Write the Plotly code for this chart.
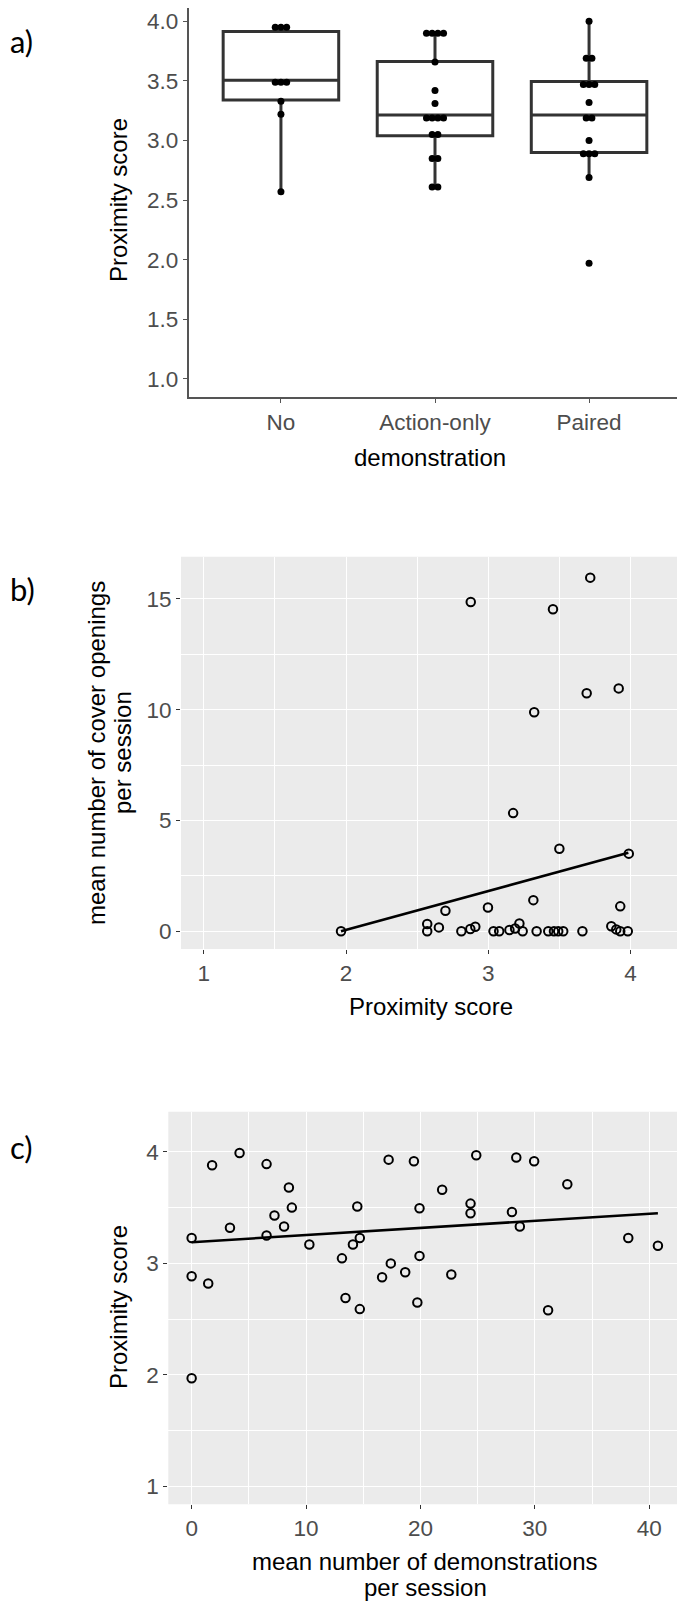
import plotly.graph_objects as go
from collections import Counter

# The page body has an 8px default margin; the figure is sized and positioned to compensate.
OFF = 8
W, H = 685 - OFF, 1611 - OFF

# ---------------- Panel a data ----------------
groups = ["No", "Action-only", "Paired"]
no_scores = [3.95, 3.95, 3.95, 3.49, 3.49, 3.49, 3.33, 3.22, 2.57]
action_scores = [3.90, 3.90, 3.90, 3.90, 3.66, 3.42, 3.31, 3.19, 3.19, 3.19, 3.19,
                 3.05, 3.05, 2.85, 2.85, 2.61, 2.61]
paired_scores = [4.00, 3.69, 3.69, 3.47, 3.47, 3.47, 3.32, 3.19, 3.19, 3.00,
                 2.89, 2.89, 2.89, 2.69, 1.97]
box_q1 = [3.34, 3.04, 2.90]
box_median = [3.505, 3.214, 3.214]
box_q3 = [3.915, 3.663, 3.495]
box_lower = [2.57, 2.61, 2.69]
box_upper = [3.95, 3.90, 4.00]

# ---------------- Panel b data ----------------
b_prox = [2.877, 3.717, 3.455, 3.917, 3.692, 3.323, 3.175, 3.500, 3.988, 3.317,
          3.928, 2.998, 2.699, 1.965,
          2.571, 2.571, 2.653, 2.811, 2.874, 2.909, 3.037, 3.077, 3.149, 3.189,
          3.219, 3.242, 3.340, 3.422, 3.462, 3.492, 3.527, 3.662, 3.865, 3.900,
          3.928, 3.981]
b_cover = [14.86, 15.96, 14.53, 10.96, 10.74, 9.88, 5.33, 3.72, 3.50, 1.40,
           1.12, 1.07, 0.92, 0.0,
           0.32, 0.0, 0.17, 0.0, 0.10, 0.20, 0.0, 0.0, 0.05, 0.12,
           0.35, 0.0, 0.0, 0.0, 0.0, 0.0, 0.0, 0.0, 0.22, 0.08,
           0.0, 0.0]
b_fit_x = [1.965, 3.985]
b_fit_y = [0.0, 3.54]

# ---------------- Panel c data ----------------
c_demos = [0.0, 0.0, 0.0, 1.45, 1.79, 3.35, 4.19, 6.55, 6.55, 7.24, 8.08, 8.50,
           8.76, 10.29, 13.14, 13.45, 14.10, 14.48, 14.70, 14.70, 16.65, 17.22,
           17.41, 18.67, 19.43, 19.73, 19.92, 19.92, 21.90, 22.70, 24.38, 24.38,
           24.88, 28.00, 28.38, 28.69, 29.94, 31.16, 32.84, 38.17, 40.76]
c_prox = [3.227, 2.885, 1.97, 2.82, 3.88, 3.32, 3.99, 3.89, 3.25, 3.43, 3.33, 3.68,
          3.50, 3.17, 3.045, 2.69, 3.17, 3.51, 3.227, 2.59, 2.876, 3.93,
          3.00, 2.92, 3.915, 2.65, 3.494, 3.067, 3.66, 2.90, 3.536, 3.45,
          3.97, 3.46, 3.95, 3.33, 3.915, 2.58, 3.71, 3.227, 3.158]
c_fit_x = [0.0, 40.76]
c_fit_y = [3.19, 3.45]

# ---------------- styling ----------------
FONT = "Liberation Sans, Arial, sans-serif"
LABEL_FONT = "Lato, Open Sans, sans-serif"
TICK_COL = "#4D4D4D"
AX_COL = "#333333"
PANEL_BG = "#EBEBEB"
TICK_SIZE = 22.5
TITLE_SIZE = 24


def px(x):
    return min(1.0, max(0.0, (x - OFF) / W))


def py(y):
    return min(1.0, max(0.0, 1 - (y - OFF) / H))


def dom_x(x0, x1):
    return [px(x0), px(x1)]


def dom_y(y0, y1):
    return [py(y1), py(y0)]


fig = go.Figure()

# Panel a: boxes
positions = [1, 2, 3]
fig.add_trace(go.Box(
    x=positions, q1=box_q1, median=box_median, q3=box_q3,
    lowerfence=box_lower, upperfence=box_upper,
    width=0.75, whiskerwidth=0, boxpoints=False,
    fillcolor="white", line=dict(color=AX_COL, width=3),
    xaxis="x", yaxis="y", showlegend=False, hoverinfo="skip"))

# Panel a: centred dot stacks
DOT_STEP = 0.037
dx, dy = [], []
for pos, vals in zip(positions, [no_scores, action_scores, paired_scores]):
    for v, n in Counter(vals).items():
        for k in range(n):
            dx.append(pos + (k - (n - 1) / 2) * DOT_STEP)
            dy.append(v)
fig.add_trace(go.Scatter(
    x=dx, y=dy, mode="markers",
    marker=dict(color="black", size=7, line=dict(width=0)),
    xaxis="x", yaxis="y", showlegend=False, hoverinfo="skip"))

# Panel b
fig.add_trace(go.Scatter(
    x=b_prox, y=b_cover, mode="markers",
    marker=dict(symbol="circle-open", color="black", size=8.5, line=dict(width=2)),
    xaxis="x2", yaxis="y2", showlegend=False, hoverinfo="skip"))
fig.add_trace(go.Scatter(
    x=b_fit_x, y=b_fit_y, mode="lines", line=dict(color="black", width=2.6),
    xaxis="x2", yaxis="y2", showlegend=False, hoverinfo="skip"))

# Panel c
fig.add_trace(go.Scatter(
    x=c_demos, y=c_prox, mode="markers",
    marker=dict(symbol="circle-open", color="black", size=8.5, line=dict(width=2)),
    xaxis="x3", yaxis="y3", showlegend=False, hoverinfo="skip"))
fig.add_trace(go.Scatter(
    x=c_fit_x, y=c_fit_y, mode="lines", line=dict(color="black", width=2.6),
    xaxis="x3", yaxis="y3", showlegend=False, hoverinfo="skip"))

tickfont = dict(family=FONT, size=TICK_SIZE, color=TICK_COL)

common_gray = dict(
    showline=False, zeroline=False, ticks="outside", ticklen=4, tickwidth=1.1,
    tickcolor=AX_COL, tickfont=tickfont, showgrid=True, gridcolor="white",
    gridwidth=1.3, automargin=False, fixedrange=True)

# panel a: top of panel clipped to the page start; keep the same scale
A_TOP, A_BOT = 3.5, 396.7
A_YMIN, A_YMAX = 0.85, 4.15
a_scale = (A_BOT - A_TOP) / (A_YMAX - A_YMIN)
a_top_vis = max(A_TOP, OFF)
a_ymax_vis = A_YMAX - (a_top_vis - A_TOP) / a_scale

fig.update_layout(
    width=W, height=H,
    margin=dict(l=0, r=0, t=0, b=0),
    paper_bgcolor="white", plot_bgcolor="white",
    showlegend=False,
    # panel a
    xaxis=dict(domain=dom_x(188.5, 681.5), range=[0.4, 3.6],
               tickvals=positions, ticktext=groups,
               showline=True, linecolor="#555555", linewidth=1.6,
               ticks="outside", ticklen=4, tickwidth=1.1, tickcolor="#555555",
               tickfont=tickfont, showgrid=False, zeroline=False,
               automargin=False, fixedrange=True, anchor="y"),
    yaxis=dict(domain=dom_y(a_top_vis, A_BOT), range=[A_YMIN, a_ymax_vis],
               tickvals=[1.0, 1.5, 2.0, 2.5, 3.0, 3.5, 4.0], tickformat=".1f",
               showline=True, linecolor="#555555", linewidth=1.6,
               ticks="outside", ticklen=4, tickwidth=1.1, tickcolor="#555555",
               tickfont=tickfont, showgrid=False, zeroline=False,
               automargin=False, fixedrange=True, anchor="x"),
    # panel b
    xaxis2=dict(domain=dom_x(181, 681.7), range=[0.84, 4.36],
                tickvals=[1, 2, 3, 4], anchor="y2",
                minor=dict(tickvals=[1.5, 2.5, 3.5], showgrid=True,
                           gridcolor="white", gridwidth=0.7, ticks=""),
                **common_gray),
    yaxis2=dict(domain=dom_y(556.7, 949), range=[-0.805, 16.905],
                tickvals=[0, 5, 10, 15], anchor="x2",
                minor=dict(tickvals=[2.5, 7.5, 12.5], showgrid=True,
                           gridcolor="white", gridwidth=0.7, ticks=""),
                **common_gray),
    # panel c
    xaxis3=dict(domain=dom_x(168.3, 681.7), range=[-2.04, 42.84],
                tickvals=[0, 10, 20, 30, 40], anchor="y3",
                minor=dict(tickvals=[5, 15, 25, 35], showgrid=True,
                           gridcolor="white", gridwidth=0.7, ticks=""),
                **common_gray),
    yaxis3=dict(domain=dom_y(1111.7, 1504.3), range=[0.84, 4.36],
                tickvals=[1, 2, 3, 4], anchor="x3",
                minor=dict(tickvals=[1.5, 2.5, 3.5], showgrid=True,
                           gridcolor="white", gridwidth=0.7, ticks=""),
                **common_gray),
)

# panel backgrounds for b and c
for (x0, x1, y0, y1) in [(181, 681.7, 556.7, 949), (168.3, 681.7, 1111.7, 1504.3)]:
    fig.add_shape(type="rect", xref="paper", yref="paper",
                  x0=px(x0), x1=px(x1), y0=py(y1), y1=py(y0),
                  fillcolor=PANEL_BG, line=dict(width=0), layer="below")


def ann(text, x, y, size=TITLE_SIZE, angle=0, family=FONT, color="black",
        xanchor="center"):
    fig.add_annotation(text=text, x=px(x), y=py(y), xref="paper", yref="paper",
                       showarrow=False, textangle=angle, xanchor=xanchor,
                       yanchor="middle", font=dict(family=family, size=size, color=color))


# panel labels (left-anchored at the page's left edge so they are not clipped)
ann("a)", OFF, 41, size=31, family=LABEL_FONT, xanchor="left")
ann("b)", OFF, 589, size=31, family=LABEL_FONT, xanchor="left")
ann("c)", OFF, 1147, size=31, family=LABEL_FONT, xanchor="left")

# axis titles
ann("Proximity score", 118, 200, angle=-90)
ann("demonstration", 430, 457)
ann("mean number of cover openings", 97, 753, angle=-90)
ann("per session", 123, 753, angle=-90)
ann("Proximity score", 431, 1006)
ann("Proximity score", 118, 1307, angle=-90)
ann("mean number of demonstrations", 425, 1561)
ann("per session", 425, 1587)

fig.write_html("out.html")
